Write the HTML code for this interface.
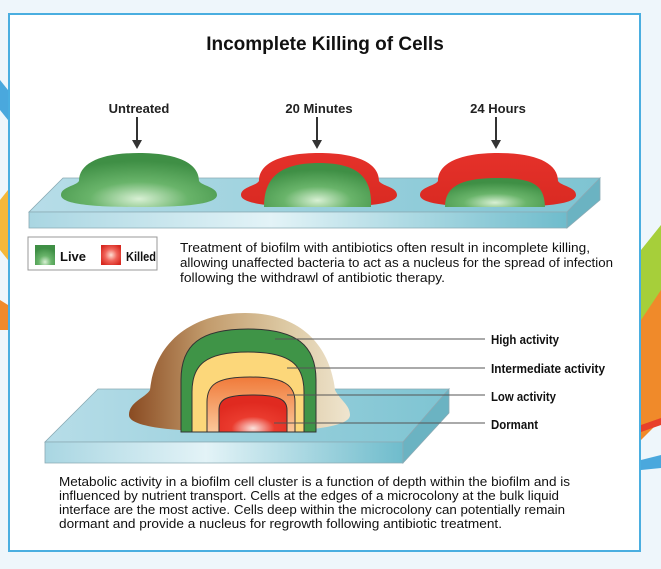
<!DOCTYPE html>
<html><head><meta charset="utf-8"><style>
html,body{margin:0;padding:0;background:#eef6fb;}
svg{display:block;}
text{font-family:"Liberation Sans",sans-serif;}
.lb{font-weight:bold;font-size:13px;}
.p{font-size:12.6px;fill:#111;}
</style></head><body>
<svg width="661" height="569" viewBox="0 0 661 569" xmlns="http://www.w3.org/2000/svg">
<defs>
<radialGradient id="gr" cx="0.5" cy="0.85" r="0.7"><stop offset="0" stop-color="#d8f0d4"/><stop offset="0.45" stop-color="#69b46a"/><stop offset="1" stop-color="#3f8f45"/></radialGradient>
<linearGradient id="rd" x1="0" y1="0" x2="0" y2="1"><stop offset="0" stop-color="#e5312a"/><stop offset="1" stop-color="#d92a22"/></linearGradient>
<radialGradient id="rl" cx="0.5" cy="0.5" r="0.6"><stop offset="0" stop-color="#fde0d4"/><stop offset="0.5" stop-color="#f0645a"/><stop offset="1" stop-color="#d7281f"/></radialGradient>
<linearGradient id="slab" x1="0" y1="0" x2="1" y2="0"><stop offset="0" stop-color="#a9d6e2"/><stop offset="0.45" stop-color="#e3f3f7"/><stop offset="1" stop-color="#6fbccc"/></linearGradient>
<linearGradient id="slabt" x1="0" y1="0" x2="1" y2="0"><stop offset="0" stop-color="#b7dde8"/><stop offset="1" stop-color="#7ec4d2"/></linearGradient>
<linearGradient id="br" x1="0" y1="0" x2="1" y2="0"><stop offset="0" stop-color="#8a4b22"/><stop offset="0.35" stop-color="#c29b6c"/><stop offset="0.7" stop-color="#dcc8a2"/><stop offset="1" stop-color="#efe5cf"/></linearGradient>
<radialGradient id="dr" cx="0.5" cy="0.9" r="0.7"><stop offset="0" stop-color="#fbe2dc"/><stop offset="0.45" stop-color="#ea3b2e"/><stop offset="1" stop-color="#e02a20"/></radialGradient>
<linearGradient id="or" x1="0" y1="0" x2="0" y2="1"><stop offset="0" stop-color="#f07a3a"/><stop offset="1" stop-color="#fbc89a"/></linearGradient>
<path id="dome" d="M -78,42 C -78,34 -63,33 -60,28 C -60,10 -38,0 0,0 C 38,0 60,10 60,28 C 63,33 78,34 78,42 C 78,52 40,54 0,54 C -40,54 -78,52 -78,42 Z"/>
</defs>
<path d="M0,80 L8,90 L8,120 L0,110Z" fill="#4aa8dd"/>
<path d="M0,200 L8,190 L8,260 L0,250Z" fill="#f5b83a"/>
<path d="M0,300 L8,305 L8,330 L0,330Z" fill="#f08a2a"/>
<path d="M641,250 L661,225 L661,310 L641,330Z" fill="#a6cf3a"/>
<path d="M641,320 L661,290 L661,420 L641,440Z" fill="#f08a2a"/>
<path d="M641,425 L661,418 L661,425 L641,432Z" fill="#e8402a"/>
<path d="M641,460 L661,455 L661,468 L641,470Z" fill="#4aa8dd"/>
<rect x="9" y="14" width="631" height="537" fill="#fff" stroke="#4aaee0" stroke-width="2"/>
<text x="325" y="50" text-anchor="middle" font-weight="bold" font-size="19" fill="#111">Incomplete Killing of Cells</text>
<text x="139" y="113" text-anchor="middle" class="lb" fill="#222">Untreated</text>
<text x="319" y="113" text-anchor="middle" class="lb" fill="#222">20 Minutes</text>
<text x="498" y="113" text-anchor="middle" class="lb" fill="#222">24 Hours</text>
<g stroke="#333" stroke-width="2">
<line x1="137" y1="117" x2="137" y2="142"/>
<line x1="317" y1="117" x2="317" y2="142"/>
<line x1="496" y1="117" x2="496" y2="142"/>
</g>
<g fill="#333">
<path d="M132,140 L142,140 L137,149Z"/>
<path d="M312,140 L322,140 L317,149Z"/>
<path d="M491,140 L501,140 L496,149Z"/>
</g>
<path d="M63,178 L600,178 L567,212 L29,212 Z" fill="url(#slabt)" stroke="#8aaab4" stroke-width="0.8"/>
<path d="M29,212 L567,212 L567,228 L29,228 Z" fill="url(#slab)" stroke="#8aaab4" stroke-width="0.8"/>
<path d="M567,212 L600,178 L600,200 L567,228 Z" fill="#6bb3c2" stroke="#8aaab4" stroke-width="0.8"/>
<use href="#dome" transform="translate(139,153)" fill="url(#gr)"/>
<use href="#dome" transform="translate(319,153)" fill="url(#rd)"/>
<path d="M264,207 C264,180 277,163 319,163 C361,163 372,180 371,207 Z" fill="url(#gr)"/>
<use href="#dome" transform="translate(498,153)" fill="url(#rd)"/>
<path d="M445,207 C445,188 458,178 498,178 C538,178 544,188 545,207 Z" fill="url(#gr)"/>
<rect x="28" y="237" width="129" height="33" fill="#fff" stroke="#999" stroke-width="1"/>
<rect x="35" y="245" width="20" height="20" fill="url(#gr)"/>
<text x="60" y="261" class="lb" fill="#111">Live</text>
<rect x="101" y="245" width="20" height="20" fill="url(#rl)"/>
<text x="126" y="261" class="lb" fill="#111" textLength="30" lengthAdjust="spacingAndGlyphs">Killed</text>
<text class="p"><tspan x="180" y="252" textLength="410" lengthAdjust="spacingAndGlyphs">Treatment of biofilm with antibiotics often result in incomplete killing,</tspan><tspan x="180" y="267" textLength="433" lengthAdjust="spacingAndGlyphs">allowing unaffected bacteria to act as a nucleus for the spread of infection</tspan><tspan x="180" y="282" textLength="265" lengthAdjust="spacingAndGlyphs">following the withdrawl of antibiotic therapy.</tspan></text>
<path d="M98,389 L449,389 L403,442 L45,442 Z" fill="url(#slabt)" stroke="#8aaab4" stroke-width="0.8"/>
<path d="M45,442 L403,442 L403,463 L45,463 Z" fill="url(#slab)" stroke="#8aaab4" stroke-width="0.8"/>
<path d="M403,442 L449,389 L449,413 L403,463 Z" fill="#6bb3c2" stroke="#8aaab4" stroke-width="0.8"/>
<path d="M129,415 C129,402 145,398 150,390 C155,340 195,313 245,313 C300,313 330,345 335,390 C340,400 350,405 350,415 C350,428 300,432 245,432 C180,432 129,428 129,415 Z" fill="url(#br)"/>
<path d="M181,432 L181,380 C181,345 200,329 248,329 C296,329 316,345 316,380 L316,432 Z" fill="#3f9447" stroke="#333" stroke-width="1"/>
<path d="M192,432 L192,392 C192,365 205,352 248,352 C291,352 304,365 304,392 L304,432 Z" fill="#fcd77a" stroke="#333" stroke-width="1"/>
<path d="M207,432 L207,402 C207,385 216,377 250,377 C284,377 295,385 295,402 L295,432 Z" fill="url(#or)" stroke="#333" stroke-width="1"/>
<path d="M219,432 L219,410 C219,400 225,395 252,395 C280,395 287,400 287,410 L287,432 Z" fill="url(#dr)" stroke="#333" stroke-width="1"/>
<g stroke="#555" stroke-width="1">
<line x1="275" y1="339" x2="485" y2="339"/>
<line x1="287" y1="368" x2="485" y2="368"/>
<line x1="287" y1="395" x2="485" y2="395"/>
<line x1="274" y1="423" x2="485" y2="423"/>
</g>
<text x="491" y="344" class="lb" fill="#111" textLength="68" lengthAdjust="spacingAndGlyphs">High activity</text>
<text x="491" y="373" class="lb" fill="#111" textLength="114" lengthAdjust="spacingAndGlyphs">Intermediate activity</text>
<text x="491" y="401" class="lb" fill="#111" textLength="65" lengthAdjust="spacingAndGlyphs">Low activity</text>
<text x="491" y="429" class="lb" fill="#111" textLength="47" lengthAdjust="spacingAndGlyphs">Dormant</text>
<text class="p"><tspan x="59" y="486" textLength="511" lengthAdjust="spacingAndGlyphs">Metabolic activity in a biofilm cell cluster is a function of depth within the biofilm and is</tspan><tspan x="59" y="500" textLength="500" lengthAdjust="spacingAndGlyphs">influenced by nutrient transport. Cells at the edges of a microcolony at the bulk liquid</tspan><tspan x="59" y="514" textLength="506" lengthAdjust="spacingAndGlyphs">interface are the most active. Cells deep within the microcolony can potentially remain</tspan><tspan x="59" y="528" textLength="443" lengthAdjust="spacingAndGlyphs">dormant and provide a nucleus for regrowth following antibiotic treatment.</tspan></text>
</svg>
</body></html>
